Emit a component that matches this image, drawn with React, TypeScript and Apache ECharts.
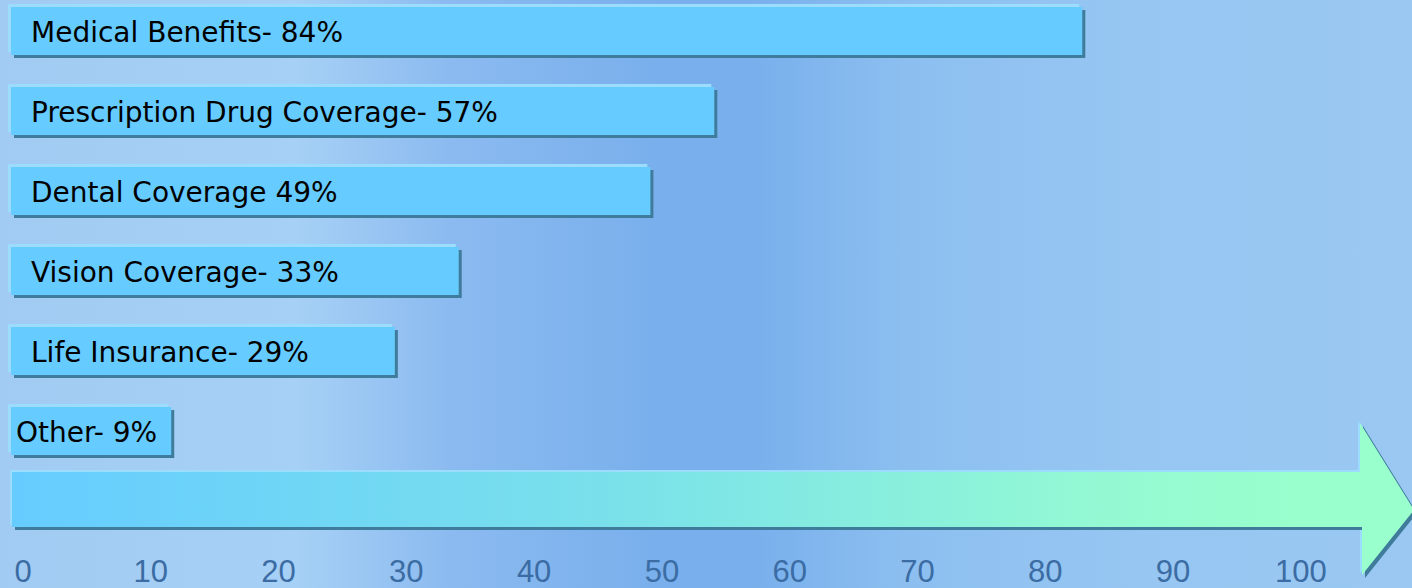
import React, { useEffect, useRef } from "react";
import * as echarts from "echarts";

// Categories (top to bottom) and their label texts
const categories = [
  "Medical Benefits",
  "Prescription Drug Coverage",
  "Dental Coverage",
  "Vision Coverage",
  "Life Insurance",
  "Other",
];
const barLabels = [
  "Medical Benefits- 84%",
  "Prescription Drug Coverage- 57%",
  "Dental Coverage 49%",
  "Vision Coverage- 33%",
  "Life Insurance- 29%",
  "Other- 9%",
];
// Bar lengths as read against the bottom scale
const barLengths = [82.9, 54.1, 49.1, 34.1, 29.1, 11.6];
// Axis tick labels
const tickValues = [0, 10, 20, 30, 40, 50, 60, 70, 80, 90, 100];

const X_MIN = -0.94;
const X_MAX = 108;
const Y_MIN = -0.3875;
const Y_MAX = 5.5;
const labelInsets = [20, 20, 20, 20, 20, 5];

export default function App() {
  const ref = useRef<HTMLDivElement>(null);

  useEffect(() => {
    if (!ref.current) return;
    const chart = echarts.init(ref.current, undefined, { renderer: "svg" });

    const renderItem = (params: any, api: any) => {
      const val = api.value(0);
      const cat = api.value(1);
      const s = api.coord([X_MIN, cat]);
      const e = api.coord([val, cat]);
      const h = api.size([0, 1])[1] * 0.6;
      const x0 = s[0];
      const w = e[0] - s[0];
      const yTop = s[1] - h / 2;
      return {
        type: "group",
        children: [
          {
            type: "rect",
            shape: { x: x0 - 3, y: yTop - 3, width: w, height: h },
            style: { fill: "#9CDDFE" },
          },
          {
            type: "rect",
            shape: { x: x0 + 3, y: yTop + 3, width: w, height: h },
            style: { fill: "#3F7C9C" },
          },
          {
            type: "rect",
            shape: { x: x0, y: yTop, width: w, height: h },
            style: { fill: "#66CCFF" },
          },
          {
            type: "text",
            x: x0 + labelInsets[cat],
            y: s[1] + 1,
            style: {
              text: barLabels[cat],
              fill: "#000000",
              font: "28px 'DejaVu Sans'",
              verticalAlign: "middle",
              align: "left",
            },
          },
        ],
      };
    };

    const arrowPts = (dx: number, dy: number) =>
      [
        [12, 472],
        [1360, 472],
        [1360, 423],
        [1414, 510],
        [1362, 575],
        [1362, 527],
        [12, 527],
      ].map((p) => [p[0] + dx, p[1] + dy]);

    chart.setOption({
      animation: false,
      backgroundColor: "transparent",
      grid: { left: 11, right: 9, top: 0, bottom: 117, containLabel: false },
      xAxis: {
        type: "value",
        min: X_MIN,
        max: X_MAX,
        axisLine: { show: false },
        axisTick: { show: false },
        splitLine: { show: false },
        axisLabel: {
          customValues: tickValues,
          margin: 85,
          color: "#3B6CA3",
          fontFamily: "'Liberation Sans'",
          fontSize: 31,
        },
      },
      yAxis: {
        type: "value",
        min: Y_MIN,
        max: Y_MAX,
        inverse: true,
        show: false,
        splitLine: { show: false },
      },
      graphic: [
        {
          type: "polygon",
          shape: { points: arrowPts(-2, -2) },
          style: { fill: "#9CDDFE" },
          z: 1,
        },
        {
          type: "polygon",
          shape: { points: arrowPts(3, 3) },
          style: { fill: "#3F7C9C" },
          z: 1,
        },
        {
          type: "polygon",
          shape: { points: arrowPts(0, 0) },
          style: {
            fill: {
              type: "linear",
              x: 0,
              y: 0,
              x2: 1,
              y2: 0,
              colorStops: [
                { offset: 0, color: "#66CCFF" },
                { offset: 0.42, color: "#79E0EB" },
                { offset: 0.776, color: "#94F9D3" },
                { offset: 0.92, color: "#99FFCC" },
                { offset: 1, color: "#99FFCC" },
              ],
            },
          },
          z: 2,
        },
      ],
      series: [
        {
          type: "custom",
          name: "Benefits",
          renderItem,
          encode: { x: 0, y: 1 },
          data: barLengths.map((v, i) => [v, i, categories[i]]),
          clip: false,
        },
      ],
    });

    return () => chart.dispose();
  }, []);

  return (
    <div
      ref={ref}
      style={{
        position: "fixed",
        left: 0,
        top: 0,
        width: 1412,
        height: 588,
        background:
          "linear-gradient(to right, #A2CBF3 0%, #A6D0F5 21%, #8BBAF0 32%, #78AFEC 47%, #78AFEC 53%, #8CBFF0 64%, #97C6F2 81%, #9AC8F3 100%)",
      }}
    />
  );
}
